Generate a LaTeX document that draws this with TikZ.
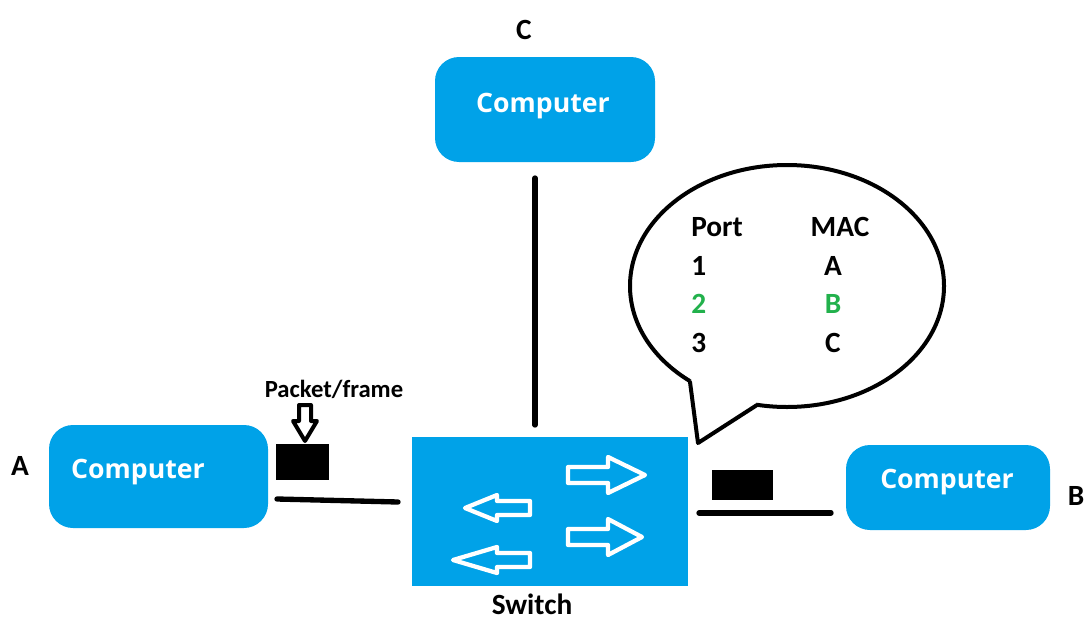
\documentclass[tikz,border=0pt]{standalone}
\usepackage{fontspec}
\setmainfont{Carlito}
\newfontfamily\boxfont{Open Sans}
\usetikzlibrary{calc}
\definecolor{netblue}{HTML}{00A2E8}
\definecolor{netgreen}{HTML}{22B14C}
\tikzset{
  pcbox/.style={fill=netblue, rounded corners=18pt, inner sep=0pt},
  pctext/.style={text=white, font=\boxfont\bfseries\fontsize{20}{24}\selectfont, inner sep=0pt},
  tag/.style={font=\bfseries\fontsize{22}{26}\selectfont, inner sep=0pt},
  cell/.style={font=\bfseries\fontsize{22}{26}\selectfont, inner sep=0pt},
  wire/.style={line width=4pt, line cap=round},
  frame/.style={fill=black, inner sep=0pt},
  flow/.style={draw=white, line width=3.2pt, line join=round},
  rflow/.pic={\draw[flow] (0,-8) -- (40,-8) -- (40,-18) -- (#1,0) -- (40,18) -- (40,8) -- (0,8) -- cycle;},
  lflow/.pic={\draw[flow] (0,-7) -- (-33,-7) -- (-33,-13) -- (-#1,0) -- (-33,13) -- (-33,7) -- (0,7) -- cycle;}
}
\begin{document}
\begin{tikzpicture}[x=0.75pt, y=-0.75pt]
\useasboundingbox (0,0) rectangle (1084,621);

% computers
\node[pcbox, minimum width=165pt, minimum height=78.75pt] (pcC) at (545,109.5) {};
\node[pctext] (pcCt) at (543,106) {Computer};
\node[tag] (labC) at (524,30) {C};

\node[pcbox, minimum width=164.25pt, minimum height=77.25pt] (pcA) at (158.5,476.5) {};
\node[pctext] (pcAt) at (138,472) {Computer};
\node[tag] (labA) at (20,466) {A};

\node[pcbox, minimum width=153pt, minimum height=63.75pt] (pcB) at (948,487.5) {};
\node[pctext] (pcBt) at (947,482) {Computer};
\node[tag] (labB) at (1076,496) {B};

% switch
\node[fill=netblue, minimum width=207pt, minimum height=111.75pt, inner sep=0pt] (sw) at (550,511.5) {};
\node[tag] (swl) at (532,604) {Switch};

\pic at (568,475) {rflow=77};
\pic at (568,537) {rflow=74};
\pic at (530,508) {lflow=65};
\pic at (530,560) {lflow=77};

% cables
\coordinate (cTop) at (535,178);
\coordinate (cBot) at (535,425);
\draw[wire] (cTop) -- (cBot);
\coordinate (aL) at (277,499);
\coordinate (aR) at (398,502);
\draw[wire] (aL) -- (aR);
\coordinate (bL) at (699,513);
\coordinate (bR) at (831,513);
\draw[wire] (bL) -- (bR);

% frames on the wire
\node[frame, minimum width=39.75pt, minimum height=27pt] (fA) at (302.5,462) {};
\node[frame, minimum width=45.75pt, minimum height=22.5pt] (fB) at (742.5,485) {};
\node[font=\bfseries\fontsize{18.5}{21}\selectfont, inner sep=0pt] (pkt) at (334,389) {Packet/frame};
\draw[line width=3pt, fill=white, line join=round]
  (299,405) -- (311,405) -- (311,421) -- (317,421) -- (305,441) -- (293,421) -- (299,421) -- cycle;

% speech bubble with the switch table
\draw[line width=3pt, fill=white] (787,286) ellipse [x radius=117.75pt, y radius=90.75pt];
\fill[white] (689,381) -- (698,443) -- (758,404) -- (745,392) -- (700,374) -- cycle;
\draw[line width=3pt, line cap=round, line join=round] (690,382) -- (698,443) -- (757,405);

\node[cell, anchor=west] (hP) at (691,227) {Port};
\node[cell] (hM) at (840,227) {MAC};
\node[cell, anchor=west] (p1) at (691,266) {1};
\node[cell] (m1) at (833,266) {A};
\node[cell, anchor=west, text=netgreen] (p2) at (691,304) {2};
\node[cell, text=netgreen] (m2) at (833,304) {B};
\node[cell, anchor=west] (p3) at (691,343) {3};
\node[cell] (m3) at (833,343) {C};
\end{tikzpicture}
\end{document}
